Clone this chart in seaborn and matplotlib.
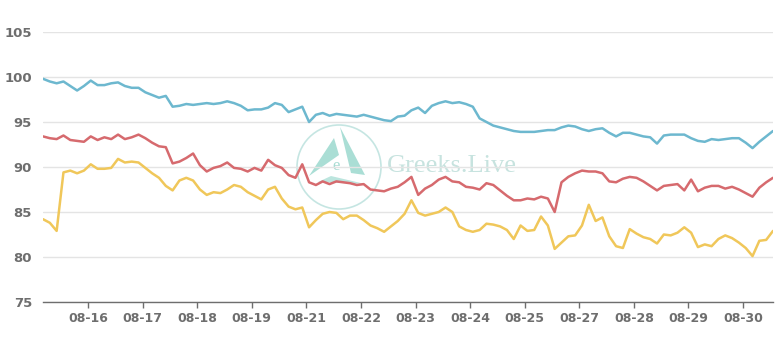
import numpy as np
import pandas as pd
import matplotlib
matplotlib.use("Agg")
import matplotlib.pyplot as plt
import seaborn as sns
from matplotlib.patches import Circle, Polygon

tick_labels = ["08-16", "08-17", "08-18", "08-19", "08-21", "08-22", "08-23",
               "08-24", "08-25", "08-27", "08-28", "08-29", "08-30"]

blue = [99.8, 99.5, 99.3, 99.5, 99.0, 98.5, 99.0, 99.6, 99.1, 99.1,
        99.3, 99.4, 99.0, 98.8, 98.8, 98.3, 98.0, 97.7, 97.9, 96.7,
        96.8, 97.0, 96.9, 97.0, 97.1, 97.0, 97.1, 97.3, 97.1, 96.8,
        96.3, 96.4, 96.4, 96.6, 97.1, 96.9, 96.1, 96.4, 96.7, 95.0,
        95.8, 96.0, 95.7, 95.9, 95.8, 95.7, 95.6, 95.8, 95.6, 95.4,
        95.2, 95.1, 95.6, 95.7, 96.3, 96.6, 96.0, 96.8, 97.1, 97.3,
        97.1, 97.2, 97.0, 96.7, 95.4, 95.0, 94.6, 94.4, 94.2, 94.0,
        93.9, 93.9, 93.9, 94.0, 94.1, 94.1, 94.4, 94.6, 94.5, 94.2,
        94.0, 94.2, 94.3, 93.8, 93.4, 93.8, 93.8, 93.6, 93.4, 93.3,
        92.6, 93.5, 93.6, 93.6, 93.6, 93.2, 92.9, 92.8, 93.1, 93.0,
        93.1, 93.2, 93.2, 92.7, 92.1, 92.8, 93.4, 94.0]

red = [93.4, 93.2, 93.1, 93.5, 93.0, 92.9, 92.8, 93.4, 93.0, 93.3,
       93.1, 93.6, 93.1, 93.3, 93.6, 93.2, 92.7, 92.3, 92.2, 90.4,
       90.6, 91.0, 91.5, 90.2, 89.5, 89.9, 90.1, 90.5, 89.9, 89.8,
       89.5, 89.9, 89.6, 90.8, 90.2, 89.9, 89.1, 88.8, 90.3, 88.3,
       88.0, 88.4, 88.1, 88.4, 88.3, 88.2, 88.0, 88.1, 87.5, 87.4,
       87.3, 87.6, 87.8, 88.3, 88.9, 86.9, 87.6, 88.0, 88.6, 88.9,
       88.4, 88.3, 87.8, 87.7, 87.5, 88.2, 88.0, 87.4, 86.8, 86.3,
       86.3, 86.5, 86.4, 86.7, 86.5, 85.0, 88.3, 88.9, 89.3, 89.6,
       89.5, 89.5, 89.3, 88.4, 88.3, 88.7, 88.9, 88.8, 88.4, 87.9,
       87.4, 87.9, 88.0, 88.1, 87.4, 88.6, 87.3, 87.7, 87.9, 87.9,
       87.6, 87.8, 87.5, 87.1, 86.7, 87.7, 88.3, 88.8]

yellow = [84.2, 83.8, 82.9, 89.4, 89.6, 89.3, 89.6, 90.3, 89.8, 89.8,
          89.9, 90.9, 90.5, 90.6, 90.5, 89.9, 89.3, 88.8, 87.9, 87.4,
          88.5, 88.8, 88.5, 87.5, 86.9, 87.2, 87.1, 87.5, 88.0, 87.8,
          87.2, 86.8, 86.4, 87.5, 87.8, 86.5, 85.6, 85.3, 85.5, 83.3,
          84.1, 84.8, 85.0, 84.9, 84.2, 84.6, 84.6, 84.1, 83.5, 83.2,
          82.8, 83.4, 84.0, 84.8, 86.3, 84.9, 84.6, 84.8, 85.0, 85.5,
          85.0, 83.4, 83.0, 82.8, 83.0, 83.7, 83.6, 83.4, 83.0, 82.0,
          83.5, 82.9, 83.0, 84.5, 83.5, 80.9, 81.6, 82.3, 82.4, 83.5,
          85.8, 84.0, 84.4, 82.3, 81.2, 81.0, 83.1, 82.6, 82.2, 82.0,
          81.5, 82.5, 82.4, 82.7, 83.3, 82.7, 81.1, 81.4, 81.2, 82.0,
          82.4, 82.1, 81.6, 81.0, 80.1, 81.8, 81.9, 82.9]

series_names = ["blue", "red", "yellow"]
palette = {"blue": "#6db8cf", "red": "#d66a6e", "yellow": "#f0c75a"}

sns.set_theme(style="white")
plt.rcParams["font.family"] = ["DejaVu Sans"]

W, H = 784, 344
fig = plt.figure(figsize=(W / 100, H / 100), dpi=100)
fig.patch.set_facecolor("white")

# watermark layer (figure pixel coordinates)
wm = fig.add_axes([0, 0, 1, 1], zorder=0)
wm.set_xlim(0, W)
wm.set_ylim(H, 0)
wm.axis("off")
wm.add_patch(Circle((339, 167), 42, fill=False, ec="#bfe3df", lw=1.2, alpha=0.9))
wm.add_patch(Polygon([(309, 176), (334, 138), (339, 155)], closed=True,
                     fc="#86d0c4", ec="none", alpha=0.7))
wm.add_patch(Polygon([(340, 127), (365, 175), (351, 173)], closed=True,
                     fc="#86d0c4", ec="none", alpha=0.7))
wm.add_patch(Polygon([(318, 182), (365, 184), (331, 176)], closed=True,
                     fc="#86d0c4", ec="none", alpha=0.55))
wm.text(336, 166, "e", fontsize=12, color="#9fd8ce", family="Liberation Serif",
        ha="center", va="center", alpha=0.9)
wm.text(387, 166, "Greeks.Live", fontsize=19, color="#c7e3df",
        family="Liberation Serif", ha="left", va="center")

ax = fig.add_axes([43 / W, 1 - 302 / H, 730 / W, 270 / H], zorder=1)
ax.patch.set_alpha(0)

n = len(blue)
idx = np.arange(n)
df = pd.DataFrame({
    "idx": np.tile(idx, 3),
    "value": blue + red + yellow,
    "series": np.repeat(series_names, n),
})
sns.lineplot(data=df, x="idx", y="value", hue="series", palette=palette,
             linewidth=1.8, legend=False, ax=ax, sort=False)

ax.set_xlim(0, n - 1)
ax.set_ylim(75, 105)
ax.set_yticks(range(75, 106, 5))
ax.set_xticks(6.6 + 8 * np.arange(len(tick_labels)))
ax.set_xticklabels(tick_labels)
ax.set_xlabel("")
ax.set_ylabel("")

ax.grid(axis="y", color="#e4e4e4", lw=1)
ax.grid(axis="x", visible=False)
for s in ["left", "top", "right"]:
    ax.spines[s].set_visible(False)
ax.spines["bottom"].set_color("#6e6e6e")
ax.spines["bottom"].set_linewidth(1)

ax.tick_params(axis="x", length=4, width=1, color="#6e6e6e", pad=3,
               labelsize=9, labelcolor="#6e6e6e", bottom=True)
ax.tick_params(axis="y", length=0, pad=8, labelsize=9.5, labelcolor="#6e6e6e")
for lab in ax.get_xticklabels() + ax.get_yticklabels():
    lab.set_fontweight("bold")

fig.savefig("out.png", dpi=100, facecolor="white")
